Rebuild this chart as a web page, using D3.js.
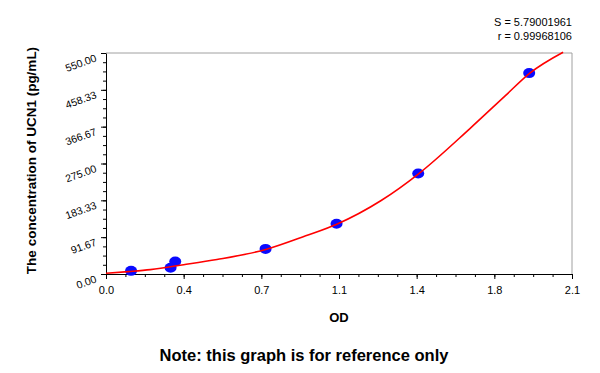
<!DOCTYPE html>
<html>
<head>
<meta charset="utf-8">
<script src="https://cdn.jsdelivr.net/npm/d3@7"></script>
<style>
  body { margin: 0; background: #fff; }
  text { font-family: Arial, "Liberation Sans", sans-serif; }
</style>
</head>
<body>
<div id="chart"></div>
<script>
// standard points (OD, concentration)
var stdOD   = [0.113, 0.291, 0.312, 0.719, 1.039, 1.407, 1.907];
var stdConc = [7.81, 15.63, 31.25, 62.5, 125, 250, 500];

// fitted curve
var curveOD   = [0, 0.1, 0.2, 0.35, 0.5, 0.72, 0.9, 1.04, 1.24, 1.41, 1.64, 1.8, 1.91, 2.06];
var curveConc = [1.7, 6, 11, 23, 36, 61, 95, 124, 183, 250, 362, 444, 500, 552];

// axis ticks
var xTicks  = [0, 0.35, 0.7, 1.05, 1.4, 1.75, 2.1];
var xLabels = ["0.0", "0.4", "0.7", "1.1", "1.4", "1.8", "2.1"];
var yTicks  = [0, 91.67, 183.33, 275, 366.67, 458.33, 550];
var yLabels = ["0.00", "91.67", "183.33", "275.00", "366.67", "458.33", "550.00"];

var fitS = "5.79001961", fitR = "0.99968106";

var width = 600, height = 373;
var margin = {top: 53, right: 28, bottom: 99, left: 106};
var w = width - margin.left - margin.right,
    h = height - margin.top - margin.bottom;

var svg = d3.select("#chart")
  .append("svg")
    .attr("width", width)
    .attr("height", height);

var g = svg.append("g")
    .attr("transform", "translate(" + margin.left + "," + margin.top + ")");

var x = d3.scaleLinear().domain([0, 2.1]).range([0, w]);
var y = d3.scaleLinear().domain([0, 550]).range([h, 0]);

// frame: top and right in grey
g.append("line")
  .attr("x1", 0).attr("x2", w).attr("y1", 0).attr("y2", 0)
  .attr("stroke", "#a0a0a0");
g.append("line")
  .attr("x1", w).attr("x2", w).attr("y1", 0).attr("y2", h)
  .attr("stroke", "#a0a0a0");

// minor ticks
var xMinor = d3.range(25).map(function(i) { return i * 2.1 / 24; });
var yMinor = d3.range(25).map(function(i) { return i * 550 / 24; });

g.append("g")
  .attr("transform", "translate(0," + h + ")")
  .call(d3.axisBottom(x).tickValues(xMinor).tickSize(3).tickFormat(""))
  .call(function(s) { s.select(".domain").remove(); });

g.append("g")
  .call(d3.axisLeft(y).tickValues(yMinor).tickSize(3).tickFormat(""))
  .call(function(s) { s.select(".domain").remove(); });

// major ticks + labels
var xAxis = g.append("g")
  .attr("transform", "translate(0," + h + ")")
  .call(d3.axisBottom(x).tickValues(xTicks).tickSize(5).tickSizeOuter(0)
    .tickFormat(function(d, i) { return xLabels[i]; }));
xAxis.selectAll("text")
  .attr("font-size", "11px")
  .attr("font-family", "Arial, 'Liberation Sans', sans-serif")
  .attr("fill", "#000")
  .attr("dy", "1.1em");

var yAxis = g.append("g")
  .call(d3.axisLeft(y).tickValues(yTicks).tickSize(5).tickSizeOuter(0)
    .tickFormat(function(d, i) { return yLabels[i]; }));
yAxis.selectAll("text")
  .attr("font-size", "10.5px")
  .attr("font-family", "Arial, 'Liberation Sans', sans-serif")
  .attr("fill", "#000")
  .attr("x", 0)
  .attr("dy", "0.35em")
  .attr("transform", "translate(-10,4) rotate(-20)");

g.selectAll(".domain").attr("stroke", "#000");
g.selectAll(".tick line").attr("stroke", "#000");

// standard points
var pts = stdOD.map(function(d, i) { return {od: d, c: stdConc[i]}; });
g.selectAll("ellipse.pt")
  .data(pts)
  .enter()
  .append("ellipse")
    .attr("class", "pt")
    .attr("cx", function(d) { return x(d.od); })
    .attr("cy", function(d) { return y(d.c); })
    .attr("rx", 6)
    .attr("ry", 5)
    .attr("fill", "#0a0aff");

// fitted curve
var curve = curveOD.map(function(d, i) { return [d, curveConc[i]]; });
g.append("path")
  .datum(curve)
  .attr("fill", "none")
  .attr("stroke", "#ff0000")
  .attr("stroke-width", 1.6)
  .attr("d", d3.line()
    .x(function(d) { return x(d[0]); })
    .y(function(d) { return y(d[1]); })
    .curve(d3.curveMonotoneX));

// fit stats
svg.append("text")
  .attr("x", 572).attr("y", 26)
  .attr("text-anchor", "end")
  .attr("font-size", "11px")
  .text("S = " + fitS);
svg.append("text")
  .attr("x", 572).attr("y", 40)
  .attr("text-anchor", "end")
  .attr("font-size", "11px")
  .text("r = " + fitR);

// axis titles
svg.append("text")
  .attr("x", margin.left + w / 2).attr("y", 322)
  .attr("text-anchor", "middle")
  .attr("font-size", "13px")
  .attr("font-weight", "bold")
  .text("OD");

svg.append("text")
  .attr("transform", "translate(36," + (margin.top + h / 2 - 3) + ")rotate(-90)")
  .attr("text-anchor", "middle")
  .attr("font-size", "13.5px")
  .attr("font-weight", "bold")
  .text("The concentration of UCN1 (pg/mL)");

svg.append("text")
  .attr("x", 304).attr("y", 361)
  .attr("text-anchor", "middle")
  .attr("font-size", "16.5px")
  .attr("font-weight", "bold")
  .text("Note: this graph is for reference only");
</script>
</body>
</html>
